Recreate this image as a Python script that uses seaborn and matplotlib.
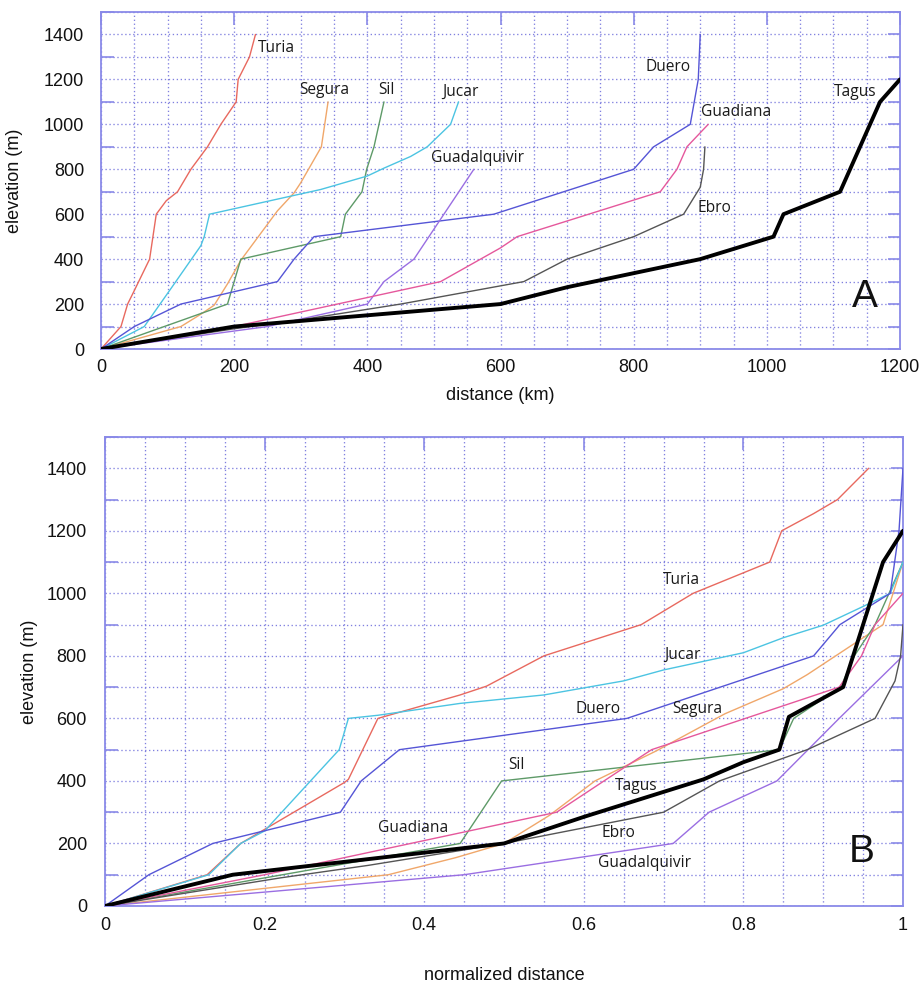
import numpy as np
import pandas as pd
import matplotlib
matplotlib.use("Agg")
import matplotlib.pyplot as plt
from matplotlib.ticker import MultipleLocator
import seaborn as sns

# ---------------- data: panel A (distance in km, elevation in m) ----------------
turia_km = [0, 30, 40, 50, 73, 83, 98, 115, 135, 160, 180, 203, 206, 223, 232]
turia_m = [0, 100, 200, 260, 400, 600, 660, 700, 800, 900, 1000, 1100, 1200, 1300, 1400]
segura_km = [0, 120, 150, 170, 190, 210, 235, 265, 290, 300, 331, 341]
segura_m = [0, 100, 155, 195, 290, 395, 495, 615, 695, 740, 900, 1100]
sil_km = [0, 190, 210, 360, 367, 392, 399, 410, 425]
sil_m = [0, 200, 400, 500, 600, 700, 800, 900, 1100]
jucar_km = [0, 65, 110, 150, 155, 163, 330, 400, 425, 465, 490, 525, 537]
jucar_m = [0, 100, 290, 460, 500, 600, 710, 770, 805, 857, 900, 1000, 1100]
duero_km = [0, 50, 120, 265, 290, 320, 590, 800, 830, 885, 897, 900]
duero_m = [0, 100, 200, 300, 400, 500, 600, 800, 900, 1000, 1200, 1400]
guadalquivir_km = [0, 250, 400, 425, 470, 515, 560]
guadalquivir_m = [0, 100, 200, 300, 400, 600, 800]
guadiana_km = [0, 200, 510, 600, 625, 840, 865, 880, 912]
guadiana_m = [0, 100, 300, 450, 500, 700, 800, 900, 1000]
ebro_km = [0, 200, 300, 450, 635, 700, 800, 875, 900, 905, 907]
ebro_m = [0, 90, 130, 200, 300, 400, 500, 600, 720, 800, 900]
tagus_km = [0, 200, 600, 700, 900, 1010, 1025, 1110, 1170, 1200]
tagus_m = [0, 100, 200, 275, 400, 500, 600, 700, 1100, 1200]

# ---------------- data: panel B (normalized distance, elevation in m) ----------------
turia_n = [0, 0.128, 0.17, 0.30, 0.305, 0.342, 0.445, 0.478, 0.55, 0.672, 0.737, 0.833, 0.848, 0.888, 0.918, 0.957]
turia_nm = [0, 100, 200, 395, 405, 600, 675, 703, 800, 900, 1000, 1100, 1200, 1255, 1300, 1400]
segura_n = [0, 0.355, 0.44, 0.50, 0.557, 0.614, 0.69, 0.777, 0.85, 0.88, 0.975, 1.0]
segura_nm = [0, 100, 155, 200, 290, 400, 495, 615, 695, 740, 900, 1100]
sil_n = [0, 0.445, 0.497, 0.845, 0.863, 0.922, 0.939, 0.965, 1.0]
sil_nm = [0, 200, 400, 500, 600, 700, 800, 900, 1100]
jucar_n = [0, 0.13, 0.17, 0.20, 0.2935, 0.305, 0.342, 0.445, 0.55, 0.65, 0.70, 0.80, 0.85, 0.90, 0.95, 0.984, 1.0]
jucar_nm = [0, 100, 200, 240, 500, 600, 610, 648, 675, 720, 755, 810, 858, 898, 958, 1000, 1100]
duero_n = [0, 0.055, 0.135, 0.295, 0.321, 0.369, 0.654, 0.888, 0.921, 0.984, 0.995, 1.0]
duero_nm = [0, 100, 200, 300, 400, 500, 600, 800, 900, 1000, 1200, 1400]
guadalquivir_n = [0, 0.45, 0.712, 0.757, 0.842, 0.92, 1.0]
guadalquivir_nm = [0, 100, 200, 300, 400, 600, 800]
guadiana_n = [0, 0.2, 0.566, 0.655, 0.685, 0.92, 0.948, 0.965, 1.0]
guadiana_nm = [0, 100, 300, 450, 500, 700, 800, 900, 1000]
ebro_n = [0, 0.22, 0.33, 0.5, 0.70, 0.77, 0.88, 0.965, 0.99, 0.997, 1.0]
ebro_nm = [0, 90, 130, 200, 300, 400, 500, 600, 720, 800, 900]
tagus_n = [0, 0.16, 0.5, 0.6, 0.75, 0.8, 0.845, 0.857, 0.925, 0.975, 1.0]
tagus_nm = [0, 100, 200, 285, 405, 460, 500, 605, 700, 1100, 1200]

rivers = ["Turia", "Segura", "Sil", "Jucar", "Duero", "Guadalquivir", "Guadiana", "Ebro", "Tagus"]
series_a = {
    "Turia": (turia_km, turia_m), "Segura": (segura_km, segura_m), "Sil": (sil_km, sil_m),
    "Jucar": (jucar_km, jucar_m), "Duero": (duero_km, duero_m),
    "Guadalquivir": (guadalquivir_km, guadalquivir_m), "Guadiana": (guadiana_km, guadiana_m),
    "Ebro": (ebro_km, ebro_m), "Tagus": (tagus_km, tagus_m),
}
series_b = {
    "Turia": (turia_n, turia_nm), "Segura": (segura_n, segura_nm), "Sil": (sil_n, sil_nm),
    "Jucar": (jucar_n, jucar_nm), "Duero": (duero_n, duero_nm),
    "Guadalquivir": (guadalquivir_n, guadalquivir_nm), "Guadiana": (guadiana_n, guadiana_nm),
    "Ebro": (ebro_n, ebro_nm), "Tagus": (tagus_n, tagus_nm),
}

# label positions (data coordinates)
labels_a = {"Turia": (264, 1340), "Segura": (336, 1151), "Sil": (428, 1151), "Jucar": (539, 1146),
            "Guadalquivir": (565, 848), "Duero": (852, 1254), "Guadiana": (954, 1057),
            "Ebro": (922, 629), "Tagus": (1132, 1146)}
labels_b = {"Turia": (0.722, 1043), "Jucar": (0.724, 802), "Duero": (0.618, 631),
            "Segura": (0.742, 631), "Sil": (0.516, 452), "Tagus": (0.666, 383),
            "Ebro": (0.643, 232), "Guadalquivir": (0.6765, 137), "Guadiana": (0.386, 250)}

colors = {"Turia": "#e8695f", "Segura": "#f0a76a", "Sil": "#5e9a68", "Jucar": "#4cc4e2",
          "Duero": "#5555d6", "Guadalquivir": "#9a6ee2", "Guadiana": "#e5589c",
          "Ebro": "#555555", "Tagus": "#000000"}

sns.set_style("white")
plt.rcParams["font.family"] = ["Liberation Sans", "DejaVu Sans"]

frame = "#8a8ae8"
gridc = "#7272dc"

fig = plt.figure(figsize=(9.21, 9.83), dpi=100)
axA = fig.add_axes([101 / 921, 1 - 349 / 983, 799 / 921, 337 / 983])
axB = fig.add_axes([105 / 921, 1 - 906 / 983, 798 / 921, 469 / 983])


def draw(ax, series):
    for r in rivers:
        x, y = series[r]
        df = pd.DataFrame({"x": x, "y": y})
        lw = 2.8 if r == "Tagus" else 1.0
        sns.lineplot(data=df, x="x", y="y", ax=ax, color=colors[r], linewidth=lw,
                     sort=False, estimator=None, zorder=5 if r == "Tagus" else 3)


def style(ax, xmaj, xmin):
    ax.set_ylim(0, 1500)
    ax.xaxis.set_major_locator(MultipleLocator(xmaj))
    ax.xaxis.set_minor_locator(MultipleLocator(xmin))
    ax.yaxis.set_major_locator(MultipleLocator(200))
    ax.yaxis.set_minor_locator(MultipleLocator(100))
    ax.grid(which="both", color=gridc, linestyle=(0, (1, 2)), linewidth=0.95, alpha=0.9)
    for s in ax.spines.values():
        s.set_color(frame)
        s.set_linewidth(1.3)
    ax.tick_params(axis="both", which="major", direction="in", length=9, width=1.2,
                   color=frame, top=True, right=True, labelsize=13, labelcolor="#111111")
    ax.tick_params(axis="y", which="minor", direction="in", length=9, width=1.2,
                   color=frame, right=True, left=True)
    ax.tick_params(axis="x", which="minor", length=0)
    ax.set_axisbelow(True)


draw(axA, series_a)
axA.set_xlim(0, 1200)
style(axA, 200, 50)
axA.tick_params(axis="y", which="major", pad=12)
axA.tick_params(axis="x", which="major", pad=7)
axA.set_xlabel("distance (km)", fontsize=13, labelpad=8, color="#111111")
axA.set_ylabel("elevation (m)", fontsize=13, labelpad=15, color="#111111")

draw(axB, series_b)
axB.set_xlim(0, 1)
style(axB, 0.2, 0.05)
axB.set_xticks([0, 0.2, 0.4, 0.6, 0.8, 1.0])
axB.set_xticklabels(["0", "0.2", "0.4", "0.6", "0.8", "1"])
axB.tick_params(axis="y", which="major", pad=13)
axB.tick_params(axis="x", which="major", pad=8)
axB.set_xlabel("normalized distance", fontsize=13, labelpad=24, color="#111111")
axB.set_ylabel("elevation (m)", fontsize=13, labelpad=6, color="#111111")

lab_font = dict(family=["Open Sans", "DejaVu Sans"], fontsize=11.2, color="#1a1a1a",
                ha="center", va="center", zorder=6)
for r, (x, y) in labels_a.items():
    axA.text(x, y, r, **lab_font)
for r, (x, y) in labels_b.items():
    axB.text(x, y, r, **lab_font)

axA.text(1147, 230, "A", fontsize=28, ha="center", va="center", color="#111111")
axB.text(0.948, 173, "B", fontsize=28, ha="center", va="center", color="#111111")

fig.savefig("out.png", dpi=100, facecolor="white")
